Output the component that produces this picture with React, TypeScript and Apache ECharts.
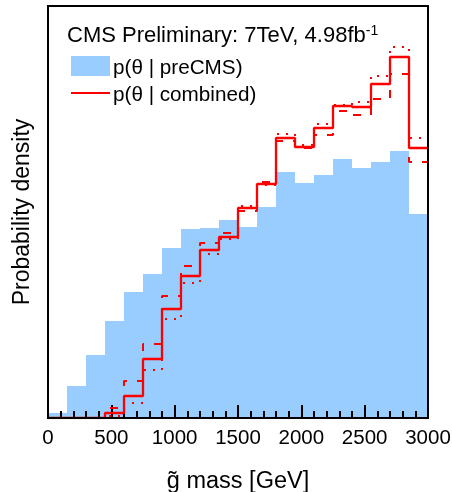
import React, { useEffect, useRef } from "react";
import * as echarts from "echarts";

// Bin edges (GeV) of the histograms
const binEdges = [0, 150, 300, 450, 600, 750, 900, 1050, 1200, 1350, 1500, 1650, 1800, 1950, 2100, 2250, 2400, 2550, 2700, 2850, 3000];
// p(theta | preCMS) – filled blue histogram (arbitrary units)
const preCMS = [5, 32, 63, 97, 126, 144, 170, 189, 190, 198, 191, 211, 246, 235, 243, 259, 250, 256, 267, 204];
// p(theta | combined) – solid red
const combined = [0, 0, 0, 5, 22, 59, 109, 142, 168, 181, 210, 234, 280, 271, 290, 312, 311, 334, 361, 270];
// dashed red variation
const combinedDashed = [0, 0, 0, 10, 37, 74, 122, 152, 175, 185, 207, 236, 277, 270, 283, 307, 303, 319, 344, 256];
// dotted red variation
const combinedDotted = [0, 0, 0, 2, 15, 48, 99, 135, 164, 179, 212, 233, 284, 273, 294, 313, 316, 342, 371, 280];
const xTicks = [0, 500, 1000, 1500, 2000, 2500, 3000];

const FONT = '"Liberation Sans", Arial, Helvetica, sans-serif';

function stepData(vals: number[]) {
  return binEdges.map((e, i) => [e, vals[Math.min(i, vals.length - 1)]]);
}

export default function App() {
  const ref = useRef<HTMLDivElement>(null);
  useEffect(() => {
    if (!ref.current) return;
    const chart = echarts.init(ref.current, null, { renderer: "svg" });
    const option: any = {
      animation: false,
      grid: {
        left: 48,
        right: 24,
        top: 6,
        bottom: 74,
        containLabel: false,
        outerBoundsMode: "none",
        show: true,
        borderColor: "#000",
        borderWidth: 2,
        backgroundColor: "transparent",
        z: 10,
      },
      xAxis: {
        type: "value",
        min: xTicks[0],
        max: xTicks[xTicks.length - 1],
        interval: 500,
        z: 6,
        name: "g\u0303 mass [GeV]",
        nameLocation: "middle",
        nameGap: 50,
        nameTextStyle: { fontSize: 23.5, fontFamily: FONT, color: "#000" },
        axisLine: { show: true, lineStyle: { color: "#000", width: 2 } },
        axisTick: { show: true, inside: true, length: 13, lineStyle: { color: "#000", width: 2 } },
        minorTick: { show: true, splitNumber: 5, length: 7, lineStyle: { color: "#000", width: 2 } },
        splitLine: { show: false },
        axisLabel: {
          fontSize: 20.5,
          fontFamily: FONT,
          color: "#000",
          margin: 8,
          formatter: (v: number) => String(v),
        },
      },
      yAxis: {
        type: "value",
        min: 0,
        max: 412,
        name: "Probability density",
        nameLocation: "middle",
        nameGap: 16,
        nameTextStyle: { fontSize: 23, fontFamily: FONT, color: "#000" },
        axisLine: { show: true, lineStyle: { color: "#000", width: 2 } },
        axisTick: { show: false },
        axisLabel: { show: false },
        splitLine: { show: false },
      },
      series: [
        {
          type: "custom",
          z: 2,
          renderItem: (params: any, api: any) => {
            const x0 = api.value(0);
            const x1 = api.value(1);
            const v = api.value(2);
            const p0 = api.coord([x0, v]);
            const p1 = api.coord([x1, 0]);
            return {
              type: "rect",
              shape: { x: p0[0], y: p0[1], width: p1[0] - p0[0], height: p1[1] - p0[1] },
              style: { fill: "#99ccff" },
            };
          },
          encode: { x: [0, 1], y: 2 },
          data: preCMS.map((v, i) => [binEdges[i], binEdges[i + 1], v]),
        },
        {
          type: "line",
          step: "end",
          symbol: "none",
          z: 8,
          data: stepData(combinedDotted),
          lineStyle: { color: "#ff0000", width: 2, type: [2, 7] },
        },
        {
          type: "line",
          step: "end",
          symbol: "none",
          z: 8,
          data: stepData(combinedDashed),
          lineStyle: { color: "#ff0000", width: 2, type: [8, 10] },
        },
        {
          type: "line",
          step: "end",
          symbol: "none",
          z: 9,
          data: stepData(combined),
          lineStyle: { color: "#ff0000", width: 2.3 },
        },
      ],
      graphic: [
        {
          type: "text",
          x: 67,
          y: 34,
          z: 20,
          style: {
            text: "CMS Preliminary: 7TeV, 4.98fb{sup|-1}",
            fontSize: 22,
            fontFamily: FONT,
            fill: "#000",
            verticalAlign: "middle",
            rich: {
              sup: { fontSize: 14, fontFamily: FONT, fill: "#000", verticalAlign: "top", padding: [0, 0, 9, 0] },
            },
          },
        },
        {
          type: "rect",
          z: 20,
          shape: { x: 71, y: 56, width: 39, height: 20 },
          style: { fill: "#99ccff" },
        },
        {
          type: "text",
          x: 113,
          y: 66,
          z: 20,
          style: { text: "p(\u03b8 | preCMS)", fontSize: 20.7, fontFamily: FONT, fill: "#000", verticalAlign: "middle" },
        },
        {
          type: "line",
          z: 20,
          shape: { x1: 71, y1: 93, x2: 110, y2: 93 },
          style: { stroke: "#ff0000", lineWidth: 2 },
        },
        {
          type: "text",
          x: 113,
          y: 93,
          z: 20,
          style: { text: "p(\u03b8 | combined)", fontSize: 20.7, fontFamily: FONT, fill: "#000", verticalAlign: "middle" },
        },
      ],
    };
    chart.setOption(option);
    return () => chart.dispose();
  }, []);
  return <div ref={ref} style={{ position: "fixed", left: 0, top: 0, width: 452, height: 492 }} />;
}
